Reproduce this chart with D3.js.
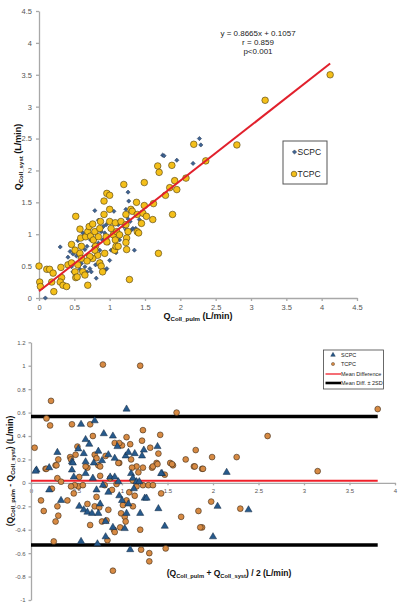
<!DOCTYPE html>
<html><head><meta charset="utf-8">
<script src="https://cdn.jsdelivr.net/npm/d3@7"></script>
<style>body{margin:0;background:#fff}svg{display:block}text{font-family:Arial,"Liberation Sans",sans-serif}</style>
</head><body>
<svg id="c" width="405" height="610"></svg>
<script>
// ---------- DATA: top panel (Q_Coll_pulm vs Q_Coll_syst) ----------
const scpcX=[0.09,0.30,0.41,0.44,0.46,0.48,0.53,0.55,0.58,0.60,0.62,0.65,0.65,0.68,0.69,0.72,0.73,0.74,0.77,0.77,0.79,0.80,0.81,0.81,0.84,0.84,0.86,0.87,0.88,0.90,0.91,0.93,0.94,0.95,0.96,0.98,1.00,1.02,1.06,1.07,1.09,1.12,1.14,1.16,1.20,1.23,1.23,1.26,1.26,1.27,1.29,1.31,1.33,1.35,1.37,1.42,1.47,1.75,2.18,0.48,0.68,0.58,0.41,2.27,1.77,1.95,2.29];
const scpcY=[0.00,0.80,0.64,0.73,0.49,0.69,0.66,0.90,0.83,0.54,1.02,0.76,0.49,0.81,0.67,0.46,0.91,0.41,0.81,1.16,1.37,0.52,0.31,1.02,1.22,0.86,0.75,0.57,1.04,0.91,1.12,1.02,0.44,1.15,0.46,0.86,0.59,0.75,1.36,1.02,0.71,1.15,0.91,0.99,1.12,1.39,1.07,1.24,1.66,1.52,1.20,1.07,1.09,0.75,1.09,1.23,1.31,2.24,2.11,0.41,0.41,0.45,0.17,2.50,2.23,2.16,2.40];
const tcpcX=[0.00,0.01,0.02,0.11,0.15,0.20,0.18,0.21,0.31,0.32,0.30,0.34,0.39,0.41,0.46,0.46,0.51,0.51,0.52,0.54,0.52,0.58,0.59,0.60,0.58,0.60,0.55,0.62,0.65,0.69,0.66,0.69,0.71,0.73,0.76,0.77,0.79,0.80,0.84,0.86,0.87,0.83,0.86,0.88,0.90,0.76,0.72,0.68,0.79,0.92,0.92,0.96,1.00,1.00,0.95,0.96,0.93,1.00,1.02,1.05,1.08,1.10,1.08,1.07,1.09,1.12,1.14,1.16,1.20,1.23,1.23,1.26,1.24,1.23,1.24,1.28,1.30,1.32,1.38,1.39,1.39,1.41,1.45,1.47,1.49,1.49,1.52,1.61,1.62,1.69,1.68,1.70,1.79,1.85,1.88,1.89,1.92,1.95,2.08,2.19,3.20,4.12,2.80,2.36];
const tcpcY=[0.50,0.25,0.18,0.45,0.45,0.39,0.25,0.10,0.48,0.32,0.25,0.20,0.18,0.52,0.55,0.84,0.75,0.41,0.32,0.33,1.28,1.08,0.94,0.81,0.70,0.62,0.52,0.41,0.36,0.20,0.96,1.04,1.12,0.97,1.16,0.91,1.04,0.81,0.96,1.09,1.20,0.67,0.55,0.50,0.41,0.62,0.65,0.58,0.75,1.52,1.31,1.64,1.61,1.39,0.96,0.88,0.70,1.20,1.09,0.99,1.18,1.04,0.91,0.75,0.81,0.81,0.99,1.20,1.78,1.15,1.31,1.04,0.94,0.87,0.76,0.29,1.39,1.36,1.50,1.31,1.04,1.02,1.17,1.33,1.81,1.45,1.28,1.23,1.48,0.70,2.07,1.97,1.61,1.73,2.08,1.31,1.84,1.70,1.88,2.41,3.10,3.50,2.40,2.15];
const regSlope=0.8665, regIntercept=0.1057, regXmax=4.12;
const statLines=["y = 0.8665x + 0.1057","r = 0.859","p<0.001"];
const topTicks=[0,0.5,1,1.5,2,2.5,3,3.5,4,4.5];

// ---------- DATA: bottom panel (Bland-Altman) ----------
const baScpcX=[1.05,0.70,0.55,0.80,0.90,0.60,0.64,0.95,0.29,0.52,0.85,0.92,1.04,1.14,1.07,1.22,1.24,1.39,0.58,0.74,0.69,0.60,0.45,0.45,0.20,0.06,0.78,0.05,0.20,0.33,0.46,0.47,0.53,0.58,0.60,0.62,0.67,0.68,0.72,0.74,0.76,0.79,0.82,0.82,0.85,0.87,0.90,0.92,0.96,0.97,1.00,1.03,1.05,1.07,1.09,1.10,1.12,1.13,1.16,1.19,1.20,1.25,1.27,1.40,1.44,1.47,0.55,0.73,2.15,2.05,2.39,2.00,1.43];
const baScpcY=[0.63,0.53,0.50,0.42,0.40,0.37,0.33,0.31,0.26,0.29,0.24,0.21,0.23,0.25,0.26,0.23,0.28,0.31,0.25,0.27,0.17,0.18,0.18,0.11,0.13,0.11,0.19,0.10,-0.06,-0.15,0.17,0.05,-0.20,-0.23,0.08,-0.25,-0.26,0.04,-0.06,-0.26,-0.18,-0.02,-0.33,-0.46,-0.08,0.05,-0.38,0.05,0.01,-0.11,-0.15,-0.39,-0.26,-0.18,-0.57,0.08,0.04,-0.05,0.01,0.01,-0.26,-0.13,-0.13,-0.22,0.08,-0.37,-0.50,-0.52,0.09,-0.20,-0.23,-0.46,0.08];
const baTcpcX=[0.79,1.20,0.22,0.17,0.21,0.45,0.65,0.04,0.68,1.00,1.05,1.23,1.22,1.09,0.92,0.97,0.51,1.31,1.42,1.40,1.60,0.82,0.70,0.49,0.43,0.30,0.27,0.44,0.72,0.74,1.10,0.97,0.16,0.62,0.76,1.16,1.33,1.38,1.53,1.56,1.70,1.81,1.79,3.81,2.60,1.99,2.26,1.88,3.15,1.98,2.30,1.88,0.17,0.28,0.11,0.14,0.29,0.30,0.27,0.40,0.25,0.23,0.29,0.33,0.47,0.52,0.53,0.60,0.62,0.65,0.70,0.72,0.75,0.76,0.78,0.81,0.83,0.84,0.85,0.87,0.89,0.90,0.91,0.92,0.94,0.96,0.98,0.99,1.01,1.03,1.04,1.05,1.08,1.11,1.12,1.12,1.14,1.16,1.18,1.20,1.21,1.23,1.23,1.29,1.30,1.30,1.34,1.34,1.39,1.43,1.47,1.48,1.55,1.65,1.80,1.89,1.84,1.86,0.57,0.48,0.44];
const baTcpcY=[1.01,1.00,0.70,0.55,0.49,0.50,0.50,0.30,0.40,0.32,0.39,0.45,0.36,0.33,0.34,0.34,0.31,0.30,0.41,0.25,0.60,0.23,0.24,0.24,0.22,0.20,0.15,0.20,0.21,0.15,0.20,0.17,0.12,0.13,0.14,0.14,0.13,0.17,0.17,0.15,0.20,0.28,0.14,0.63,0.40,0.22,0.22,0.12,0.10,-0.16,-0.22,-0.38,0.12,0.15,-0.15,-0.24,-0.20,-0.28,-0.33,-0.15,-0.50,-0.05,0.04,0.01,-0.09,-0.03,0.05,0.14,-0.18,-0.36,-0.20,-0.12,-0.21,0.06,-0.33,-0.02,-0.32,-0.49,-0.23,0.04,-0.06,-0.75,-0.40,-0.42,-0.01,0.17,-0.38,-0.26,-0.19,-0.29,-0.33,-0.15,-0.08,0.13,-0.20,0.02,-0.11,-0.03,0.09,-0.40,-0.57,0.13,-0.02,-0.02,-0.60,-0.67,-0.02,0.14,0.16,-0.09,0.07,-0.56,0.16,-0.29,0.14,0.12,-0.24,-0.38,-0.02,-0.02,-0.03];
const meanDiff=0.017, upperLoA=0.567, lowerLoA=-0.53, loaXmax=3.81;
const baYTicks=[-1,-0.8,-0.6,-0.4,-0.2,0,0.2,0.4,0.6,0.8,1,1.2];
const baXTicks=[0,0.5,1,1.5,2,2.5,3,3.5,4];
const legendTop=["SCPC","TCPC"];
const legendBottom=["SCPC","TCPC","Mean Difference","Mean Diff. \u00b1 2SD"];

const svg=d3.select("#c");
const fmt=d=>String(+d.toFixed(2));
const axisCol="#a8a8a8", tickTxt="#555";
const cYellow="#f4bf1a", cBlue="#3f6493", cOrange="#d78a43", cTri="#275a8c";

function styleAxis(g,fs){
  g.selectAll("path,line").attr("stroke",axisCol).attr("stroke-width",1.3);
  g.selectAll("text").attr("fill",tickTxt).style("font-size",fs+"px");
}
function subTitle(g,parts,fs){
  const t=g.append("text").attr("font-weight","bold").attr("fill","#111").style("font-size",fs+"px").attr("text-anchor","middle");
  parts.forEach(p=>{
    if(p.sub){t.append("tspan").text(p.t).style("font-size",(fs*0.68)+"px").attr("dy",fs*0.25);}
    else if(p.back){t.append("tspan").text(p.t).attr("dy",-fs*0.25);}
    else t.append("tspan").text(p.t);
  });
  return t;
}

// ================= TOP PANEL =================
const x1=d3.scaleLinear().domain([0,4.5]).range([39,357]);
const y1=d3.scaleLinear().domain([0,4.5]).range([298,11]);
svg.append("g").attr("transform","translate(0,298)")
  .call(d3.axisBottom(x1).tickValues(topTicks).tickFormat(fmt).tickSize(3).tickSizeOuter(0).tickPadding(4))
  .call(g=>styleAxis(g,7.5));
svg.append("g").attr("transform","translate(39,0)")
  .call(d3.axisLeft(y1).tickValues(topTicks).tickFormat(fmt).tickSize(3).tickSizeOuter(0).tickPadding(4))
  .call(g=>styleAxis(g,7.5));

// SCPC diamonds (square rotated 45°)
const diamond=d3.symbol().type(d3.symbolSquare).size(9);
svg.append("g").selectAll("path").data(scpcX.map((v,i)=>[v,scpcY[i]])).join("path")
  .attr("d",diamond).attr("transform",d=>`translate(${x1(d[0])},${y1(d[1])}) rotate(45)`)
  .attr("fill",cBlue).attr("stroke","#22344f").attr("stroke-width",0.5);
// TCPC circles
svg.append("g").selectAll("circle").data(tcpcX.map((v,i)=>[v,tcpcY[i]])).join("circle")
  .attr("cx",d=>x1(d[0])).attr("cy",d=>y1(d[1])).attr("r",3.3)
  .attr("fill",cYellow).attr("stroke","#4a3a10").attr("stroke-width",0.6);
// regression line
svg.append("line").attr("x1",x1(0)).attr("y1",y1(regIntercept))
  .attr("x2",x1(regXmax)).attr("y2",y1(regSlope*regXmax+regIntercept))
  .attr("stroke","#e1202c").attr("stroke-width",2);
// stats text
svg.append("g").selectAll("text").data(statLines).join("text")
  .attr("x",258).attr("y",(d,i)=>36+i*9.2).attr("text-anchor","middle")
  .style("font-size","8px").attr("fill","#222").text(d=>d);
// legend
svg.append("rect").attr("x",283).attr("y",141).attr("width",44).attr("height",43)
  .attr("fill","#fff").attr("stroke","#555").attr("stroke-width",1);
svg.append("path").attr("d",diamond).attr("transform","translate(294.5,152) rotate(45)").attr("fill",cBlue).attr("stroke","#22344f").attr("stroke-width",0.5);
svg.append("circle").attr("cx",294).attr("cy",174).attr("r",2.8).attr("fill",cYellow).attr("stroke","#4a3a10").attr("stroke-width",0.6);
svg.append("g").selectAll("text").data(legendTop).join("text")
  .attr("x",297.5).attr("y",(d,i)=>155+i*22).style("font-size","8.5px").attr("fill","#222").text(d=>d);
// axis titles
subTitle(svg.append("g").attr("transform","translate(198,319)"),
  [{t:"Q"},{t:"Coll_pulm",sub:true},{t:" (L/min)",back:true}],9);
subTitle(svg.append("g").attr("transform","translate(21,157) rotate(-90)"),
  [{t:"Q"},{t:"Coll_syst",sub:true},{t:" (L/min)",back:true}],9);

// ================= BOTTOM PANEL =================
const x2=d3.scaleLinear().domain([0,4]).range([31,395]);
const y2=d3.scaleLinear().domain([-1,1.2]).range([600,342.3]);
svg.append("g").attr("transform",`translate(0,${y2(0)})`)
  .call(d3.axisBottom(x2).tickValues(baXTicks).tickFormat(fmt).tickSize(2.5).tickSizeOuter(0).tickPadding(3))
  .call(g=>styleAxis(g,6));
svg.append("g").attr("transform","translate(31,0)")
  .call(d3.axisLeft(y2).tickValues(baYTicks).tickFormat(fmt).tickSize(2.5).tickSizeOuter(0).tickPadding(3))
  .call(g=>styleAxis(g,6));

// limit lines
[[upperLoA,"#000",3.6],[lowerLoA,"#000",3.6],[meanDiff,"#f0202a",2]].forEach(([v,c,w])=>{
  svg.append("line").attr("x1",x2(0)).attr("x2",x2(loaXmax)).attr("y1",y2(v)).attr("y2",y2(v))
    .attr("stroke",c).attr("stroke-width",w);
});
// TCPC circles
svg.append("g").selectAll("circle").data(baTcpcX.map((v,i)=>[v,baTcpcY[i]])).join("circle")
  .attr("cx",d=>x2(d[0])).attr("cy",d=>y2(d[1])).attr("r",2.9)
  .attr("fill",cOrange).attr("stroke","#3a2a1a").attr("stroke-width",0.6);
// SCPC triangles
const tri=d3.symbol().type(d3.symbolTriangle).size(22);
svg.append("g").selectAll("path").data(baScpcX.map((v,i)=>[v,baScpcY[i]])).join("path")
  .attr("d",tri).attr("transform",d=>`translate(${x2(d[0])},${y2(d[1])})`)
  .attr("fill",cTri).attr("stroke","#10263f").attr("stroke-width",0.5);

// legend
svg.append("rect").attr("x",323.5).attr("y",350).attr("width",60).attr("height",39)
  .attr("fill","#fff").attr("stroke","#444").attr("stroke-width",0.8);
svg.append("path").attr("d",d3.symbol().type(d3.symbolTriangle).size(9)).attr("transform","translate(333,355)").attr("fill",cTri).attr("stroke","#10263f").attr("stroke-width",0.4);
svg.append("circle").attr("cx",333).attr("cy",364).attr("r",1.6).attr("fill",cOrange).attr("stroke","#3a2a1a").attr("stroke-width",0.4);
svg.append("line").attr("x1",325.5).attr("x2",341).attr("y1",374).attr("y2",374).attr("stroke","#f0202a").attr("stroke-width",1.3);
svg.append("line").attr("x1",325.5).attr("x2",341).attr("y1",383).attr("y2",383).attr("stroke","#000").attr("stroke-width",2.6);
svg.append("g").selectAll("text").data(legendBottom).join("text")
  .attr("x",341).attr("y",(d,i)=>357+i*9.3).style("font-size","5.5px").attr("fill","#222").text(d=>d);

// axis titles
subTitle(svg.append("g").attr("transform","translate(229,576)"),
  [{t:"(Q"},{t:"Coll_pulm",sub:true},{t:" + Q",back:true},{t:"Coll_syst",sub:true},{t:") / 2  (L/min)",back:true}],8.5);
subTitle(svg.append("g").attr("transform","translate(13,471) rotate(-90)"),
  [{t:"(Q"},{t:"Coll_pulm",sub:true},{t:" - Q",back:true},{t:"Coll_syst",sub:true},{t:")  (L/min)",back:true}],8.5);
</script>
</body></html>
